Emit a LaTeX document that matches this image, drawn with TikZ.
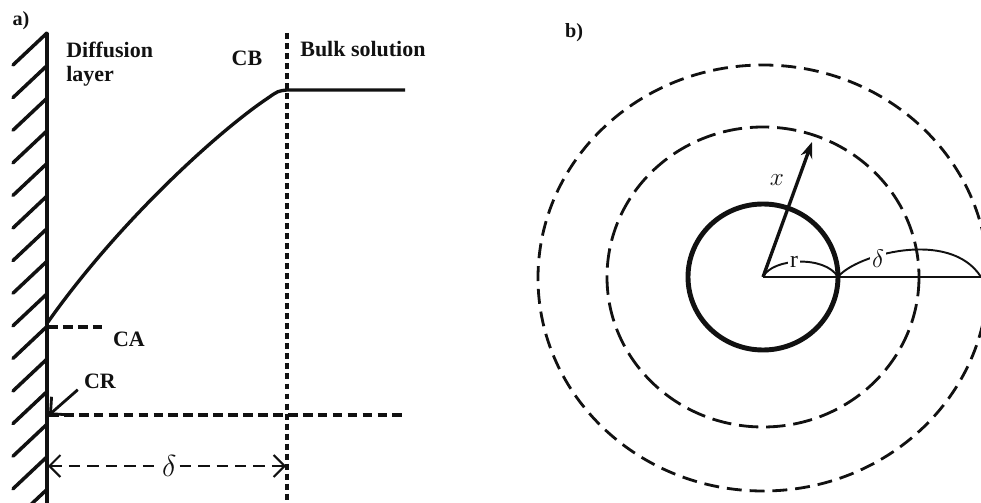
\documentclass[tikz,border=0pt]{standalone}
\usepackage{fontspec}
\setmainfont{Liberation Serif}
\usetikzlibrary{arrows.meta,positioning,calc}
\definecolor{ink}{HTML}{111111}
\tikzset{
  lbl/.style={font=\fontsize{12.5}{13.6}\selectfont\bfseries,text=ink,inner sep=0pt},
  tag/.style={font=\fontsize{11.5}{13}\selectfont\bfseries,text=ink,inner sep=0pt},
  sym/.style={font=\fontsize{13.5}{15}\selectfont,text=ink,fill=white,inner sep=1pt},
  wall/.style={line width=2.2pt,draw=ink},
  hatch/.style={line width=2pt,draw=ink,line cap=round},
  profile/.style={line width=1.9pt,draw=ink},
  guide/.style={line width=2pt,draw=ink,dash pattern=on 3.4pt off 2.3pt},
  level/.style={line width=1.8pt,draw=ink,dash pattern=on 5.5pt off 3pt},
  dim/.style={line width=1.2pt,draw=ink,dash pattern=on 6.5pt off 4pt,
    {Straight Barb[length=2.2mm]}-{Straight Barb[length=2.2mm]}},
  ptr/.style={line width=1.6pt,draw=ink,-{Straight Barb[length=2.4mm]}},
  core/.style={line width=2.8pt,draw=ink},
  shell/.style={line width=1.6pt,draw=ink,dash pattern=on #1 off 4.5pt},
  shell/.default=11pt,
  radial/.style={line width=1.9pt,draw=ink,-{Stealth[length=3.2mm]}},
  axis/.style={line width=1.7pt,draw=ink},
  span/.style={line width=1.1pt,draw=ink},
}
\begin{document}
\begin{tikzpicture}[x=0.02cm,y=-0.02cm]
  \useasboundingbox (0,0) rectangle (981,503);
  \clip (0,0) rectangle (981,503);
  \node[tag] (pa) at (21,21) {a)};
  \draw[wall] (47,33) -- (47,503);
  \foreach \y in {33,65.6,...,500} \draw[hatch] (47,\y) -- ++(-34,32);
  \coordinate (ca) at (48,322);
  \coordinate (cb) at (287,90);
  \draw[profile] (ca) .. controls (120,220) and (220,130) .. (268,98)
    .. controls (278,91) .. (cb) -- (405,90);
  \draw[guide] (287,33) -- (287,500);
  \node[lbl,align=left,anchor=west] (dl) at (66,64) {Diffusion\\layer};
  \node[lbl] (cbl) at (247,58) {CB};
  \node[lbl,anchor=west] (bulk) at (300,49) {Bulk solution};
  \draw[level] (48,327) -- ++(55,0);
  \node[lbl] (cal) at (129,339) {CA};
  \coordinate (cr) at (49,415);
  \draw[level] (cr) -- (403,415);
  \node[lbl] (crl) at (100,381) {CR};
  \draw[ptr] ($(crl.south west)+(-6,1)$) -- (cr);
  \coordinate (d0) at (48,466);
  \coordinate (d1) at (286,466);
  \draw[dim] (d0) -- node[sym,pos=0.51,font=\fontsize{16}{18}\selectfont] (dla) {$\delta$} (d1);

  \node[tag] (pb) at (574,33) {b)};
  \coordinate (o) at (763,277);
  \draw[core] (o) ellipse [x radius=75,y radius=73];
  \draw[shell=11pt] (o) ellipse [x radius=156,y radius=150];
  \draw[shell=8.5pt] (763,278) ellipse [x radius=225,y radius=213];
  \coordinate (xtip) at (812,142);
  \draw[radial] (o) -- (xtip);
  \node[sym,fill=none,font=\fontsize{15}{17}\selectfont] (xl) at (777,180) {$x$};
  \coordinate (edge) at (838,277);
  \coordinate (rim) at (981,277);
  \draw[axis] (o) -- (rim);
  \draw[span] (o) .. controls (772,258) and (825,255) .. (edge);
  \node[sym] (rl) at (794,262) {r};
  \draw[span] (edge) .. controls (855,255) and (950,228) .. (rim);
  \node[sym] (dlb) at (878,259) {$\delta$};
\end{tikzpicture}
\end{document}
